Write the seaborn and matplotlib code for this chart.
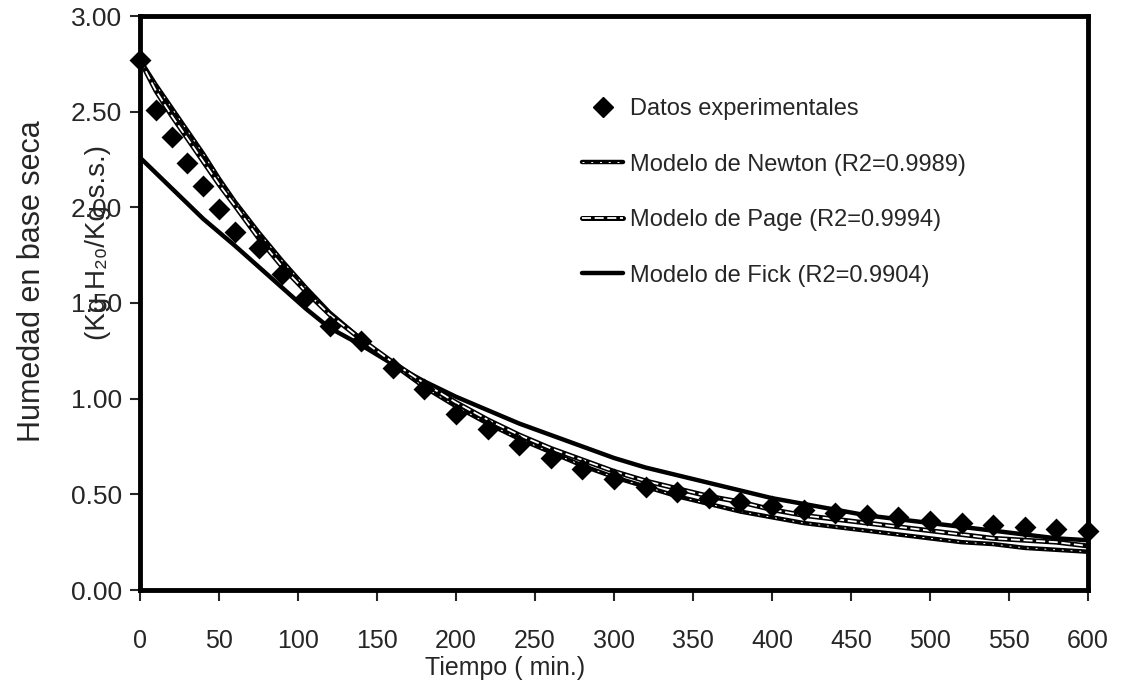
import matplotlib
matplotlib.use("Agg")
import matplotlib.pyplot as plt
from matplotlib.lines import Line2D
from matplotlib.legend_handler import HandlerTuple
import seaborn as sns
import pandas as pd

# ---------------- data ----------------
tiempo = [0, 10, 20, 30, 40, 50, 60, 75, 90, 105, 120, 140, 160, 180, 200, 220,
          240, 260, 280, 300, 320, 340, 360, 380, 400, 420, 440, 460, 480, 500,
          520, 540, 560, 580, 600]
datos_exp = [2.77, 2.51, 2.37, 2.23, 2.11, 1.99, 1.87, 1.79, 1.65, 1.53, 1.38, 1.30,
             1.16, 1.05, 0.92, 0.84, 0.76, 0.69, 0.63, 0.58, 0.54, 0.51, 0.48, 0.46,
             0.44, 0.42, 0.40, 0.39, 0.38, 0.36, 0.35, 0.34, 0.33, 0.32, 0.31]
newton = [2.77, 2.64, 2.52, 2.40, 2.28, 2.15, 2.03, 1.87, 1.72, 1.58, 1.45, 1.31,
          1.18, 1.06, 0.96, 0.87, 0.79, 0.72, 0.65, 0.59, 0.54, 0.49, 0.45, 0.41,
          0.38, 0.35, 0.33, 0.31, 0.29, 0.27, 0.25, 0.24, 0.22, 0.21, 0.20]
page = [2.77, 2.61, 2.48, 2.36, 2.24, 2.12, 2.01, 1.84, 1.69, 1.56, 1.44, 1.31,
        1.19, 1.08, 0.98, 0.89, 0.81, 0.74, 0.68, 0.62, 0.57, 0.53, 0.49, 0.46,
        0.42, 0.39, 0.37, 0.35, 0.33, 0.31, 0.29, 0.27, 0.26, 0.25, 0.23]
fick = [2.26, 2.18, 2.10, 2.02, 1.94, 1.87, 1.80, 1.69, 1.58, 1.47, 1.37, 1.28,
        1.18, 1.09, 1.01, 0.94, 0.87, 0.81, 0.75, 0.69, 0.64, 0.60, 0.56, 0.52,
        0.48, 0.45, 0.42, 0.39, 0.37, 0.35, 0.33, 0.31, 0.29, 0.27, 0.26]
x_ticks = [0, 50, 100, 150, 200, 250, 300, 350, 400, 450, 500, 550, 600]
y_ticks = [0.0, 0.5, 1.0, 1.5, 2.0, 2.5, 3.0]
lbl_datos = "Datos experimentales"
lbl_newton = "Modelo de Newton (R2=0.9989)"
lbl_page = "Modelo de Page (R2=0.9994)"
lbl_fick = "Modelo de Fick (R2=0.9904)"

df = pd.DataFrame({"t": tiempo, "exp": datos_exp, "newton": newton,
                   "page": page, "fick": fick})

# ---------------- style ----------------
sns.set_style("ticks")
plt.rcParams["font.family"] = ["Liberation Sans", "DejaVu Sans"]

fig = plt.figure(figsize=(11.26, 6.83), dpi=100)
ax = fig.add_axes([140 / 1126, 1 - 590 / 683, (1088 - 140) / 1126, (590 - 16) / 683])

# model lines
sns.lineplot(data=df, x="t", y="fick", ax=ax, color="black", lw=3.2, legend=False)
sns.lineplot(data=df, x="t", y="newton", ax=ax, color="black", lw=3.2, legend=False)
sns.lineplot(data=df, x="t", y="newton", ax=ax, color="white", lw=0.7,
             legend=False).lines[-1].set_dashes([2, 7])
sns.lineplot(data=df, x="t", y="page", ax=ax, color="black", lw=3.6, legend=False)
sns.lineplot(data=df, x="t", y="page", ax=ax, color="white", lw=1.3,
             legend=False).lines[-1].set_dashes([5, 2])

# experimental points
sns.scatterplot(data=df, x="t", y="exp", ax=ax, marker="D", s=125, color="black",
                edgecolor="black", linewidth=0, zorder=5, clip_on=False, legend=False)

# axes
ax.set_xlim(0, 600)
ax.set_ylim(0, 3.0)
ax.set_xticks(x_ticks)
ax.set_xticklabels([str(v) for v in x_ticks], fontsize=18)
ax.set_yticks(y_ticks)
ax.set_yticklabels([f"{v:.2f}" for v in y_ticks], fontsize=19)
ax.tick_params(axis="x", direction="out", length=8, width=1.5, pad=20)
ax.tick_params(axis="y", direction="out", length=7, width=1.5, pad=6)
for s in ax.spines.values():
    s.set_visible(True)
    s.set_linewidth(3.5)
    s.set_color("black")
ax.set_xlabel("")
ax.set_ylabel("")

fig.text(505 / 1126, 1 - 668 / 683, "Tiempo ( min.)", fontsize=18,
         ha="center", va="center")
fig.text(32 / 1126, 1 - 281 / 683, "Humedad en base seca", fontsize=22,
         rotation=90, ha="center", va="center")
fig.text(98 / 1126, 1 - 243 / 683, "(Kg H\u2082\u2080/Kg s.s.)", fontsize=20,
         rotation=90, ha="center", va="center")

# legend
h_d = Line2D([], [], ls="none", marker="D", ms=10, color="black")
h_n = (Line2D([], [], color="black", lw=3.2),
       Line2D([], [], color="white", lw=0.7, dashes=[2, 7]))
h_p = (Line2D([], [], color="black", lw=3.6),
       Line2D([], [], color="white", lw=1.3, dashes=[5, 2]))
h_f = Line2D([], [], color="black", lw=3.2)
ax.legend([h_d, h_n, h_p, h_f], [lbl_datos, lbl_newton, lbl_page, lbl_fick],
          handler_map={tuple: HandlerTuple(ndivide=1)},
          loc="upper left", bbox_to_anchor=(582 / 1126, 1 - 98 / 683),
          bbox_transform=fig.transFigure, frameon=False, borderpad=0,
          borderaxespad=0, handlelength=1.75, handletextpad=0.3,
          labelspacing=1.42, prop={"size": 17})

fig.savefig("out.png", dpi=100)
